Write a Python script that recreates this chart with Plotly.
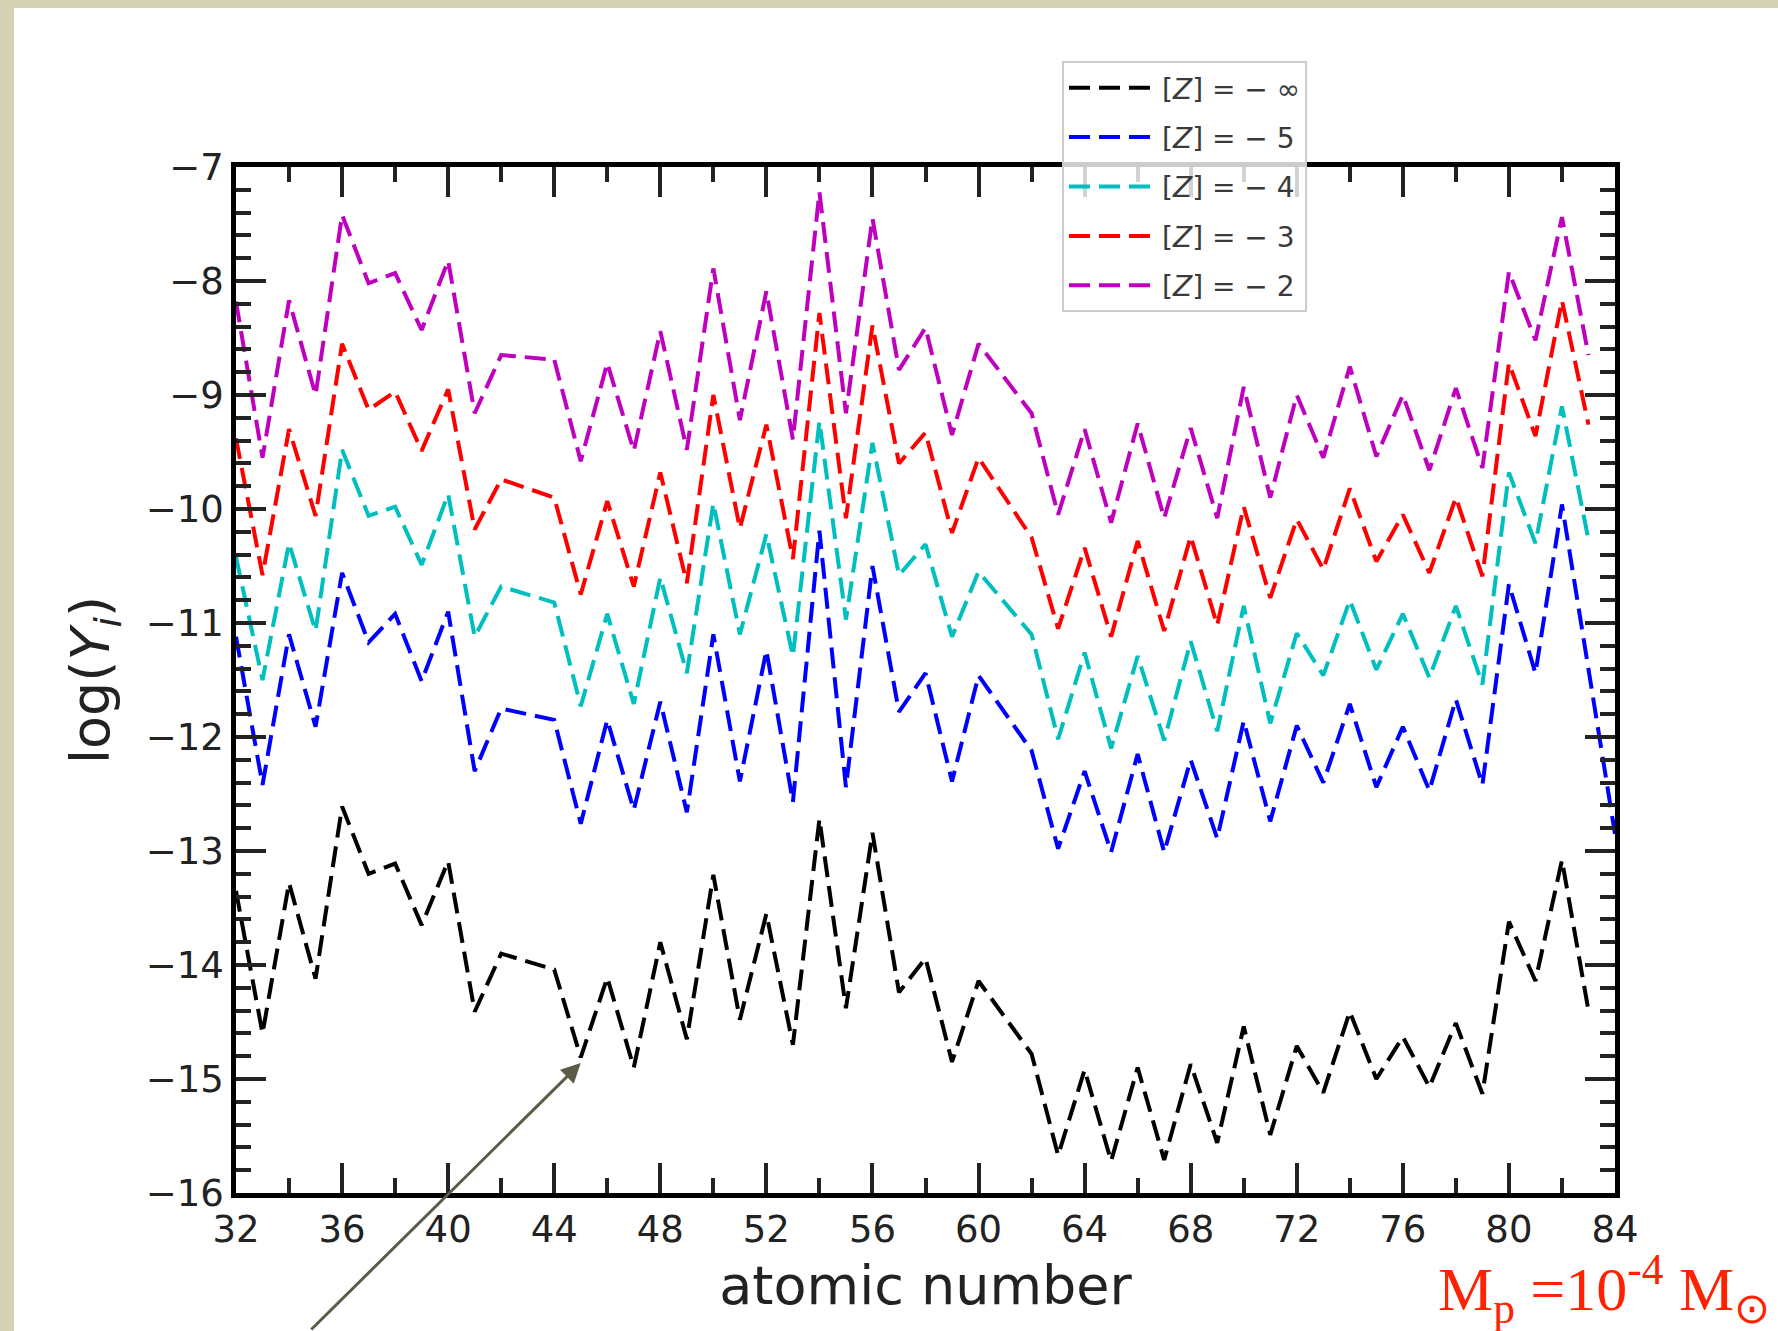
import plotly.graph_objects as go

# atomic numbers (Tc=43 and Pm=61 absent)
atomic_number = [32, 33, 34, 35, 36, 37, 38, 39, 40, 41, 42, 44, 45, 46, 47, 48, 49, 50, 51, 52,
                 53, 54, 55, 56, 57, 58, 59, 60, 62, 63, 64, 65, 66, 67, 68, 69, 70, 71, 72, 73,
                 74, 75, 76, 77, 78, 79, 80, 81, 82, 83]
atomic_number_m5 = atomic_number + [84]

logY_minf = [-13.35, -14.60, -13.28, -14.12, -12.61, -13.20, -13.11, -13.65, -13.09, -14.41,
             -13.90, -14.04, -14.81, -14.11, -14.90, -13.80, -14.65, -13.21, -14.48, -13.55,
             -14.70, -12.72, -14.38, -12.84, -14.24, -13.94, -14.85, -14.14, -14.78, -15.67,
             -14.92, -15.72, -14.90, -15.71, -14.87, -15.56, -14.54, -15.49, -14.71, -15.12,
             -14.41, -15.00, -14.63, -15.07, -14.51, -15.13, -13.62, -14.14, -13.08, -14.40]

logY_m5 = [-11.12, -12.42, -11.10, -11.91, -10.56, -11.17, -10.92, -11.51, -10.90, -12.30,
           -11.75, -11.85, -12.76, -11.85, -12.64, -11.69, -12.66, -11.10, -12.39, -11.24,
           -12.57, -10.19, -12.44, -10.50, -11.78, -11.44, -12.39, -11.46, -12.12, -12.98,
           -12.30, -13.01, -12.15, -13.01, -12.20, -12.89, -11.86, -12.74, -11.90, -12.40,
           -11.71, -12.44, -11.91, -12.47, -11.67, -12.42, -10.66, -11.44, -9.96, -11.40,
           -12.85]

logY_m4 = [-10.42, -11.50, -10.30, -11.07, -9.48, -10.06, -9.98, -10.49, -9.87, -11.12,
           -10.68, -10.82, -11.73, -10.92, -11.71, -10.60, -11.44, -9.95, -11.10, -10.22,
           -11.29, -9.23, -10.97, -9.42, -10.58, -10.31, -11.12, -10.55, -11.10, -12.02,
           -11.26, -12.10, -11.29, -12.03, -11.16, -11.95, -10.85, -11.88, -11.09, -11.46,
           -10.80, -11.41, -10.92, -11.48, -10.85, -11.54, -9.68, -10.30, -9.10, -10.27]

logY_m3 = [-9.38, -10.58, -9.30, -10.06, -8.55, -9.13, -8.97, -9.49, -8.95, -10.18,
           -9.74, -9.90, -10.75, -9.93, -10.68, -9.68, -10.65, -9.00, -10.17, -9.26,
           -10.44, -8.28, -10.08, -8.39, -9.60, -9.33, -10.21, -9.55, -10.25, -11.05,
           -10.34, -11.12, -10.28, -11.07, -10.24, -11.02, -9.98, -10.78, -10.09, -10.53,
           -9.82, -10.46, -10.05, -10.56, -9.90, -10.59, -8.72, -9.36, -8.17, -9.26]

logY_m2 = [-8.18, -9.55, -8.17, -9.00, -7.42, -8.02, -7.93, -8.43, -7.82, -9.16,
           -8.65, -8.69, -9.58, -8.72, -9.49, -8.44, -9.48, -7.89, -9.22, -8.09,
           -9.39, -7.22, -9.16, -7.45, -8.78, -8.41, -9.35, -8.55, -9.16, -10.05,
           -9.30, -10.12, -9.25, -10.08, -9.29, -10.08, -8.93, -9.90, -9.00, -9.55,
           -8.75, -9.54, -9.00, -9.66, -8.94, -9.64, -7.92, -8.52, -7.44, -8.65]

series_names = ["[<i>Z</i>] = \u2212 \u221e", "[<i>Z</i>] = \u2212 5", "[<i>Z</i>] = \u2212 4",
                "[<i>Z</i>] = \u2212 3", "[<i>Z</i>] = \u2212 2"]
series_colors = ["#000000", "#0000ff", "#00bfbf", "#ff0000", "#bf00bf"]
series_x = [atomic_number, atomic_number_m5, atomic_number, atomic_number, atomic_number]
series_y = [logY_minf, logY_m5, logY_m4, logY_m3, logY_m2]

x_ticks = [32, 36, 40, 44, 48, 52, 56, 60, 64, 68, 72, 76, 80, 84]
y_ticks = [-16, -15, -14, -13, -12, -11, -10, -9, -8, -7]

W, H = 1778, 1331
L, R, T, B = 236, 163, 167, 138
PW, PH = W - L - R, H - T - B


def px(xp):
    return (xp - L) / PW


def py(yp):
    return (H - B - yp) / PH


fig = go.Figure()
for i in range(5):
    fig.add_trace(go.Scatter(
        x=series_x[i], y=series_y[i], mode="lines", name=series_names[i],
        legendgroup="g%d" % i,
        line=dict(color=series_colors[i], width=4, dash="21px,9px"),
    ))

axis_common = dict(
    showline=True, linecolor="black", linewidth=4.5, mirror="ticks",
    ticks="inside", ticklen=30, tickwidth=3.5, tickcolor="#222222",
    showgrid=False, zeroline=False,
    tickfont=dict(family="DejaVu Sans", size=37, color="#222222"),
)

fig.update_xaxes(
    range=[32, 84], tickmode="array", tickvals=x_ticks,
    minor=dict(ticks="inside", ticklen=15, tickwidth=3.5, dtick=2, tick0=32, tickcolor="#222222"),
    title=dict(text="atomic number", font=dict(family="DejaVu Sans", size=54, color="#222222"),
               standoff=18),
    **axis_common,
)
fig.update_yaxes(
    range=[-16, -7], tickmode="array", tickvals=y_ticks,
    minor=dict(ticks="inside", ticklen=15, tickwidth=3.5, dtick=0.2, tick0=-16, tickcolor="#222222"),
    title=dict(text="log(<i>Y<sub>i</sub></i>)", font=dict(family="DejaVu Sans", size=54, color="#222222"),
               standoff=20),
    **axis_common,
)

shapes = [
    dict(type="rect", xref="paper", yref="paper", x0=px(0), x1=px(14), y0=py(H + 2), y1=py(-2),
         fillcolor="#d4d2b2", line=dict(width=0), layer="below"),
    dict(type="rect", xref="paper", yref="paper", x0=px(0), x1=px(W + 2), y0=py(8), y1=py(-2),
         fillcolor="#d4d2b2", line=dict(width=0), layer="below"),
]

annotations = [
    dict(x=45, y=-14.86, xref="x", yref="y", text="", showarrow=True,
         ax=-271, ay=275, arrowcolor="#5c5b48", arrowwidth=3, arrowhead=2, arrowsize=1.3),
    dict(x=px(1436), y=py(1334), xref="paper", yref="paper", xanchor="left", yanchor="bottom",
         text="M<sub>p</sub> =10<sup>-4</sup> M<sub>\u2299</sub>", showarrow=False,
         font=dict(family="Liberation Serif", size=62, color="#ff2200")),
]

fig.update_layout(
    width=W, height=H,
    margin=dict(l=L, r=R, t=T, b=B, autoexpand=False),
    paper_bgcolor="white", plot_bgcolor="white",
    shapes=shapes, annotations=annotations,
    legend=dict(
        x=px(1062), y=py(61), xanchor="left", yanchor="top",
        bgcolor="rgba(255,255,255,0.8)", bordercolor="#cccccc", borderwidth=2,
        font=dict(family="DejaVu Sans", size=28, color="#3a3a3a"),
        traceorder="grouped", tracegroupgap=10, itemwidth=88,
    ),
)

fig.write_html("out.html")
